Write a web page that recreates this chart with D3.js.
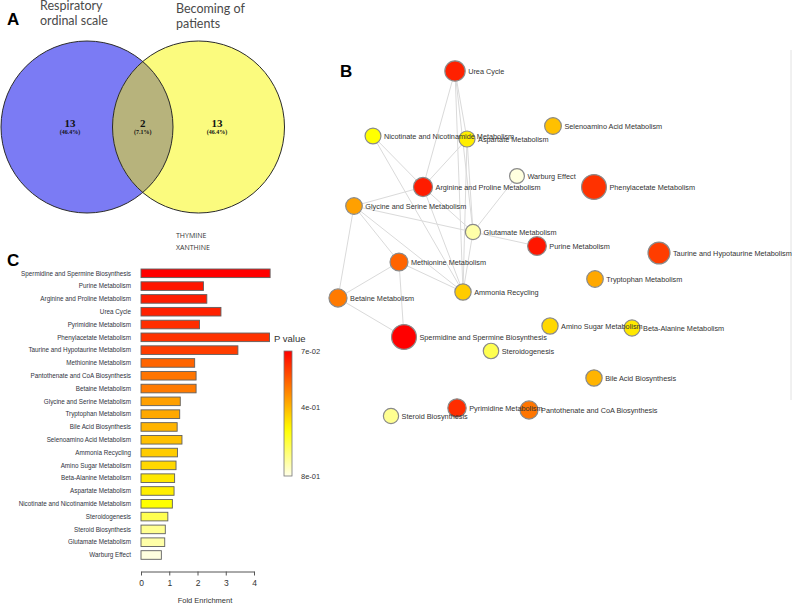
<!DOCTYPE html>
<html><head><meta charset="utf-8">
<script src="https://cdn.jsdelivr.net/npm/d3@7"></script>
<style>body{margin:0;background:#fff}svg{display:block}</style>
</head><body>
<svg id="c" width="793" height="606"></svg>
<script>
// ---------- DATA ----------
const vennSetLabels = [["Respiratory", "ordinal scale"], ["Becoming of", "patients"]];
const vennCounts = [13, 2, 13];
const vennPercents = ["(46.4%)", "(7.1%)", "(46.4%)"];
const sharedMetabolites = ["THYMINE", "XANTHINE"];

const pathways = [
  "Spermidine and Spermine Biosynthesis", "Purine Metabolism", "Arginine and Proline Metabolism",
  "Urea Cycle", "Pyrimidine Metabolism", "Phenylacetate Metabolism",
  "Taurine and Hypotaurine Metabolism", "Methionine Metabolism", "Pantothenate and CoA Biosynthesis",
  "Betaine Metabolism", "Glycine and Serine Metabolism", "Tryptophan Metabolism",
  "Bile Acid Biosynthesis", "Selenoamino Acid Metabolism", "Ammonia Recycling",
  "Amino Sugar Metabolism", "Beta-Alanine Metabolism", "Aspartate Metabolism",
  "Nicotinate and Nicotinamide Metabolism", "Steroidogenesis", "Steroid Biosynthesis",
  "Glutamate Metabolism", "Warburg Effect"
];
const foldEnrichment = [4.57, 2.21, 2.33, 2.83, 2.07, 4.55, 3.43, 1.90, 1.95, 1.95, 1.39, 1.37,
  1.28, 1.45, 1.29, 1.24, 1.19, 1.17, 1.11, 0.95, 0.86, 0.84, 0.72];
const pValues = [0.070, 0.110, 0.120, 0.130, 0.150, 0.160, 0.180, 0.250, 0.280, 0.290, 0.358, 0.373,
  0.394, 0.416, 0.438, 0.459, 0.488, 0.499, 0.530, 0.623, 0.698, 0.726, 0.790];
const foldTicks = [0, 1, 2, 3, 4];
const legendTicks = [0.07, 0.4, 0.8];
const legendTickLabels = ["7e-02", "4e-01", "8e-01"];

// network layout coordinates (same order as pathways)
const nodeX = [74, 207, 93, 125, 127, 264, 329, 69, 199, 8, 24, 265, 264, 223, 133, 220, 302, 137, 43, 161, 61, 143, 187];
const nodeY = [337, 246, 187, 71, 408, 187, 253, 262, 410, 298, 206, 279, 378, 126, 292, 326, 328, 139, 136, 351, 416, 232, 176];
const edges = [
  ["Urea Cycle", "Arginine and Proline Metabolism"], ["Urea Cycle", "Aspartate Metabolism"],
  ["Urea Cycle", "Glutamate Metabolism"], ["Urea Cycle", "Ammonia Recycling"],
  ["Nicotinate and Nicotinamide Metabolism", "Arginine and Proline Metabolism"],
  ["Nicotinate and Nicotinamide Metabolism", "Ammonia Recycling"],
  ["Aspartate Metabolism", "Arginine and Proline Metabolism"], ["Aspartate Metabolism", "Glutamate Metabolism"],
  ["Aspartate Metabolism", "Ammonia Recycling"],
  ["Arginine and Proline Metabolism", "Glycine and Serine Metabolism"],
  ["Arginine and Proline Metabolism", "Glutamate Metabolism"], ["Arginine and Proline Metabolism", "Ammonia Recycling"],
  ["Glycine and Serine Metabolism", "Glutamate Metabolism"], ["Glycine and Serine Metabolism", "Methionine Metabolism"],
  ["Glycine and Serine Metabolism", "Ammonia Recycling"], ["Glycine and Serine Metabolism", "Betaine Metabolism"],
  ["Warburg Effect", "Glutamate Metabolism"], ["Glutamate Metabolism", "Purine Metabolism"],
  ["Glutamate Metabolism", "Ammonia Recycling"],
  ["Methionine Metabolism", "Ammonia Recycling"], ["Methionine Metabolism", "Betaine Metabolism"],
  ["Methionine Metabolism", "Spermidine and Spermine Biosynthesis"],
  ["Betaine Metabolism", "Spermidine and Spermine Biosynthesis"]
];

// ---------- DRAW ----------
const svg = d3.select("#c");
const SANS = "Liberation Sans, Arial, sans-serif";
const color = d3.scaleLinear().domain([0.07, 0.3, 0.53, 0.8])
  .range(["#ff0000", "#ff8000", "#ffff00", "#ffffe8"]).clamp(true);

// panel letters
[["A", 7, 25], ["B", 340, 77], ["C", 7, 266]].forEach(([t, x, y]) =>
  svg.append("text").attr("x", x).attr("y", y).text(t)
    .attr("font-family", SANS).attr("font-weight", "bold").attr("font-size", 17).attr("fill", "#000"));

// ===== Panel A: Venn =====
const venn = svg.append("g");
const vc = [{cx: 87, cy: 127, r: 86}, {cx: 198.5, cy: 127, r: 86}];
venn.append("defs").append("clipPath").attr("id", "clipL")
  .append("circle").attr("cx", vc[0].cx).attr("cy", vc[0].cy).attr("r", vc[0].r);
venn.append("circle").attr("cx", vc[0].cx).attr("cy", vc[0].cy).attr("r", vc[0].r).attr("fill", "#7b7bf4");
venn.append("circle").attr("cx", vc[1].cx).attr("cy", vc[1].cy).attr("r", vc[1].r).attr("fill", "#fbfb7e");
venn.append("circle").attr("cx", vc[1].cx).attr("cy", vc[1].cy).attr("r", vc[1].r)
  .attr("clip-path", "url(#clipL)").attr("fill", "#b7b37c");
vc.forEach(c => venn.append("circle").attr("cx", c.cx).attr("cy", c.cy).attr("r", c.r)
  .attr("fill", "none").attr("stroke", "#2a2a2a").attr("stroke-width", 1));
const regionX = [70, 142.7, 217];
vennCounts.forEach((n, i) => {
  venn.append("text").attr("x", regionX[i]).attr("y", 127).attr("text-anchor", "middle")
    .attr("font-family", "Liberation Serif, serif").attr("font-weight", "bold").attr("font-size", 11)
    .attr("fill", "#111").text(n);
  venn.append("text").attr("x", regionX[i]).attr("y", 134).attr("text-anchor", "middle")
    .attr("font-family", "Liberation Serif, serif").attr("font-weight", "bold").attr("font-size", 6)
    .attr("fill", "#111").text(vennPercents[i]);
});
const setLabelPos = [[40, 10], [176, 13]];
vennSetLabels.forEach((lines, i) => {
  lines.forEach((ln, j) => venn.append("text").attr("x", setLabelPos[i][0]).attr("y", setLabelPos[i][1] + j * 15)
    .attr("font-family", "Lato, sans-serif").attr("font-size", 12.5).attr("fill", "#4a4a4a").text(ln));
});
sharedMetabolites.forEach((m, j) => venn.append("text").attr("x", 176).attr("y", 237.5 + j * 12.5)
  .attr("font-family", "Open Sans, sans-serif").attr("font-size", 7).attr("fill", "#333").text(m));

// ===== Panel C: bar chart =====
const x = d3.scaleLinear().domain([0, 4]).range([141, 254]);
const y = d3.scalePoint().domain(pathways).range([273.3, 555]);
const barH = 8.6;
const bars = svg.append("g");
bars.selectAll("rect").data(pathways).join("rect")
  .attr("x", x(0)).attr("y", d => y(d) - barH / 2)
  .attr("width", (d, i) => x(foldEnrichment[i]) - x(0)).attr("height", barH)
  .attr("fill", (d, i) => color(pValues[i])).attr("stroke", "#5f5f5f").attr("stroke-width", 0.9);
bars.selectAll("text.lbl").data(pathways).join("text").attr("class", "lbl")
  .attr("x", 131).attr("y", d => y(d)).attr("dy", "0.35em").attr("text-anchor", "end")
  .attr("font-family", SANS).attr("font-size", 6.3).attr("fill", "#2f3340").text(d => d);
const axG = svg.append("g").attr("transform", "translate(0,571.5)")
  .call(d3.axisBottom(x).tickValues(foldTicks).tickSize(4).tickSizeOuter(0).tickFormat(d3.format("d")));
axG.select(".domain").attr("stroke", "#555");
axG.selectAll(".tick line").attr("stroke", "#555");
axG.selectAll(".tick text").attr("font-family", SANS).attr("font-size", 8.5).attr("fill", "#333").attr("dy", "0.9em");
svg.append("text").attr("x", 205).attr("y", 603).attr("text-anchor", "middle")
  .attr("font-family", SANS).attr("font-size", 7.5).attr("fill", "#333").text("Fold Enrichment");

// legend
const ly = d3.scaleLinear().domain([0.07, 0.8]).range([351, 476]);
const grad = svg.append("defs").append("linearGradient").attr("id", "pgrad")
  .attr("x1", 0).attr("y1", 0).attr("x2", 0).attr("y2", 1);
d3.range(0, 1.0001, 0.05).forEach(t => {
  const p = ly.invert(351 + t * 125);
  grad.append("stop").attr("offset", t).attr("stop-color", color(p));
});
svg.append("rect").attr("x", 284).attr("y", ly(0.07)).attr("width", 8).attr("height", ly(0.8) - ly(0.07))
  .attr("fill", "url(#pgrad)").attr("stroke", "#777").attr("stroke-width", 0.8);
svg.append("text").attr("x", 274).attr("y", 342).attr("font-family", SANS).attr("font-size", 9.5)
  .attr("fill", "#333").text("P value");
legendTicks.forEach((p, i) => svg.append("text").attr("x", 301).attr("y", ly(p)).attr("dy", "0.35em")
  .attr("font-family", SANS).attr("font-size", 7.5).attr("fill", "#333").text(legendTickLabels[i]));

// ===== Panel B: network =====
const nx = d3.scaleLinear().domain([0, 460]).range([330, 790]);
const ny = d3.scaleLinear().domain([0, 606]).range([0, 606]);
const rScale = d3.scaleLinear().domain([0, 5]).range([6.5, 13]);
const idx = name => pathways.indexOf(name);
const net = svg.append("g");
net.append("line").attr("x1", 791).attr("x2", 791).attr("y1", 50).attr("y2", 400)
  .attr("stroke", "#e2e2e2").attr("stroke-width", 1);
net.selectAll("line.edge").data(edges).join("line").attr("class", "edge")
  .attr("x1", d => nx(nodeX[idx(d[0])])).attr("y1", d => ny(nodeY[idx(d[0])]))
  .attr("x2", d => nx(nodeX[idx(d[1])])).attr("y2", d => ny(nodeY[idx(d[1])]))
  .attr("stroke", "#dadada").attr("stroke-width", 1);
net.selectAll("circle").data(pathways).join("circle")
  .attr("cx", (d, i) => nx(nodeX[i])).attr("cy", (d, i) => ny(nodeY[i]))
  .attr("r", (d, i) => rScale(foldEnrichment[i]))
  .attr("fill", (d, i) => color(pValues[i])).attr("stroke", "#8a8a8a").attr("stroke-width", 1.2);
net.selectAll("text").data(pathways).join("text")
  .attr("x", (d, i) => nx(nodeX[i]) + rScale(foldEnrichment[i]) + 3)
  .attr("y", (d, i) => ny(nodeY[i])).attr("dy", "0.35em")
  .attr("font-family", SANS).attr("font-size", 7.3).attr("fill", "#333").text(d => d);
</script>
</body></html>
